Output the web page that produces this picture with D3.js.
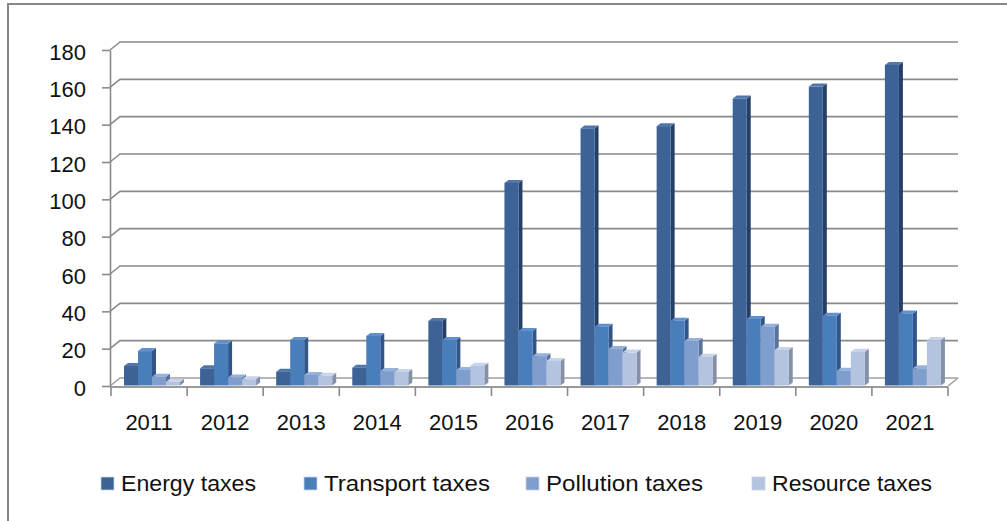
<!DOCTYPE html>
<html><head><meta charset="utf-8">
<script src="https://cdn.jsdelivr.net/npm/d3@7/dist/d3.min.js"></script>
<style>
body{margin:0;background:#fff}
svg{display:block}
text{font-family:"Liberation Sans",Arial,sans-serif;fill:#111}
</style>
</head><body>
<svg id="c" width="1007" height="521"></svg>
<script>
// ---- data ----
const years = ["2011","2012","2013","2014","2015","2016","2017","2018","2019","2020","2021"];
const seriesNames = ["Energy taxes","Transport taxes","Pollution taxes","Resource taxes"];
const energyTaxes    = [10.7, 9.5, 7.7, 9.8, 34.8, 108.8, 138, 139.2, 154, 160.4, 172];
const transportTaxes = [18.7, 22.8, 24.6, 26.8, 24.6, 29.5, 31.8, 35, 35.9, 37.7, 38.9];
const pollutionTaxes = [5, 4.6, 5.9, 8, 8.6, 16, 19.8, 24.1, 31.8, 8.2, 9.5];
const resourceTaxes  = [2.3, 3.6, 5.5, 7.5, 10.9, 13.4, 17.9, 15.7, 19.3, 18.4, 24.6];
const yTicks = [0,20,40,60,80,100,120,140,160,180];

const seriesValues = [energyTaxes, transportTaxes, pollutionTaxes, resourceTaxes];
const colors = [
  {front:"#3C6296", side:"#263F66", top:"#5076AA"},
  {front:"#4A7EBB", side:"#30558A", top:"#6090CC"},
  {front:"#7F9ECD", side:"#5A7299", top:"#97B1DA"},
  {front:"#B4C3E0", side:"#8490A8", top:"#C8D4EA"}
];

const svg = d3.select("#c");
const x = d3.scaleBand().domain(years).range([111, 948]);
const y = d3.scaleLinear().domain([0, 180]).range([386, 50]);
const inner = d3.scaleBand().domain(seriesNames).range([13, 13 + 56]);
const wall = {dx: 10, dy: -8};
const bd = {dx: 4, dy: -3};
const gridColor = "#8a8a8a";

// border
svg.append("rect").attr("x", 8).attr("y", 4).attr("width", 1020).attr("height", 540)
  .attr("fill", "none").attr("stroke", "#888").attr("stroke-width", 2);

// gridlines: side-wall diagonal + back wall horizontal
const x0 = x.range()[0] - 1, x1 = x.range()[1];
const grid = svg.append("g");
yTicks.forEach(t => {
  const yy = y(t);
  grid.append("path")
    .attr("d", `M${x0},${yy} L${x0 + wall.dx},${yy + wall.dy} L${x1 + wall.dx},${yy + wall.dy}`)
    .attr("fill", "none").attr("stroke", t === 0 ? "#a0a0a0" : gridColor).attr("stroke-width", 1.6);
});
// floor right edge
svg.append("line").attr("x1", x1).attr("y1", y(0)).attr("x2", x1 + wall.dx).attr("y2", y(0) + wall.dy)
  .attr("stroke", "#a0a0a0").attr("stroke-width", 1.6);

// x axis line & ticks
const xa = svg.append("g");
xa.append("line").attr("x1", x0).attr("x2", x1).attr("y1", y(0) + 1).attr("y2", y(0) + 1)
  .attr("stroke", "#9a9a9a").attr("stroke-width", 2);
const bounds = years.map(d => x(d)).concat([x1]);
bounds.forEach(b => {
  xa.append("line").attr("x1", b).attr("x2", b).attr("y1", y(0) + 1).attr("y2", y(0) + 10)
    .attr("stroke", "#8a8a8a").attr("stroke-width", 1.6);
});

// y axis
const ya = svg.append("g").attr("transform", `translate(${x0},0)`)
  .call(d3.axisLeft(y).tickValues(yTicks).tickSize(8).tickSizeOuter(0).tickPadding(16));
ya.select(".domain").attr("stroke", "#8a8a8a").attr("stroke-width", 1.6);
ya.selectAll(".tick line").attr("stroke", "#8a8a8a").attr("stroke-width", 1.6);
ya.selectAll(".tick text").style("font-size", "22px").style("font-family", '"Liberation Sans",Arial,sans-serif')
  .attr("fill", "#111").attr("dy", "0.42em");

// bars
const bars = svg.append("g");
years.forEach((yr, i) => {
  seriesNames.forEach((s, j) => {
    const v = seriesValues[j][i];
    const bx = x(yr) + inner(s), bw = inner.bandwidth();
    const top = y(v), bot = y(0) - 0.5;
    const c = colors[j];
    const g = bars.append("g");
    g.append("path").attr("d",
      `M${bx + bw},${bot} L${bx + bw + bd.dx},${bot + bd.dy} L${bx + bw + bd.dx},${top + bd.dy} L${bx + bw},${top} Z`)
      .attr("fill", c.side);
    g.append("path").attr("d",
      `M${bx},${top} L${bx + bd.dx},${top + bd.dy} L${bx + bw + bd.dx},${top + bd.dy} L${bx + bw},${top} Z`)
      .attr("fill", c.top);
    g.append("rect").attr("x", bx).attr("y", top).attr("width", bw).attr("height", Math.max(0, bot - top))
      .attr("fill", c.front);
  });
});

// x labels
svg.append("g").selectAll("text").data(years).join("text")
  .attr("x", d => x(d) + x.bandwidth() / 2).attr("y", 430)
  .attr("text-anchor", "middle").style("font-size", "22px").text(d => d);

// legend
const legendX = [101, 304, 526, 752];
const legendW = [135, 166, 157, 160];
const lg = svg.append("g");
seriesNames.forEach((s, j) => {
  lg.append("rect").attr("x", legendX[j]).attr("y", 477).attr("width", 13).attr("height", 13)
    .attr("fill", colors[j].front).attr("stroke", "#c8d2e4").attr("stroke-width", 0.8);
  lg.append("text").attr("x", legendX[j] + 20).attr("y", 491).style("font-size", "22px")
    .attr("textLength", legendW[j]).attr("lengthAdjust", "spacingAndGlyphs").text(s);
});
</script>
</body></html>
